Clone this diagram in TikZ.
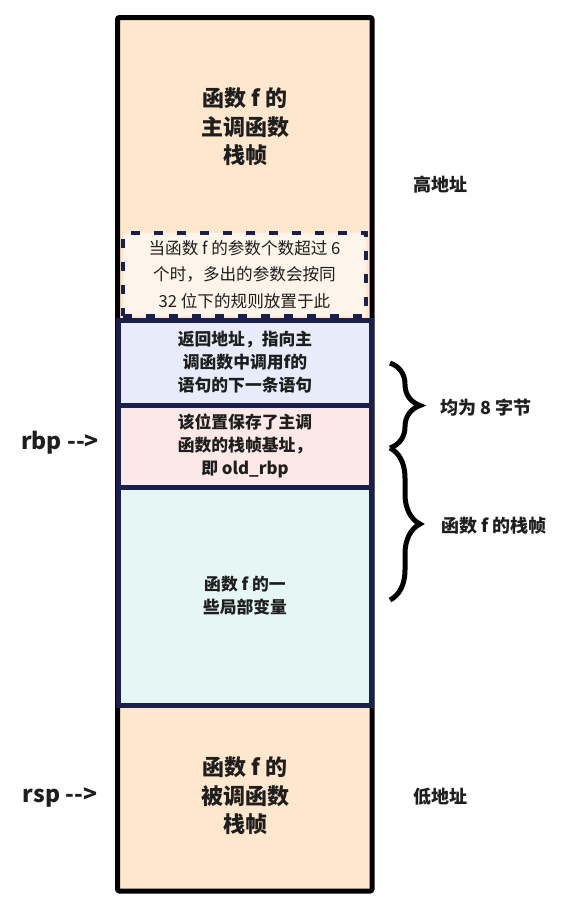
\documentclass[tikz,border=0pt]{standalone}
\usepackage{fontspec}
\setmainfont{Noto Sans CJK SC}
\usetikzlibrary{decorations.pathreplacing}
\definecolor{peach}{HTML}{FFE7CE}
\definecolor{paleorange}{HTML}{FDF4EA}
\definecolor{lav}{HTML}{E7EBFA}
\definecolor{rosy}{HTML}{FDE8E8}
\definecolor{mint}{HTML}{E6F6F4}
\definecolor{navy}{HTML}{1B1F4B}
\definecolor{ink}{HTML}{1E1E1E}
\begin{document}
\begin{tikzpicture}[x=1pt,y=-1pt,
  frame/.style={draw=black,line width=5pt,fill=peach,rounded corners=2pt,minimum width=254.5pt,minimum height=873.5pt,inner sep=0pt},
  slot/.style={draw=navy,line width=5pt,minimum width=253pt,inner sep=0pt,align=center,text=ink,font=\fontsize{16.8}{23}\selectfont\bfseries},
  dashbox/.style={draw=navy,line width=4.5pt,dash pattern=on 9pt off 14pt,fill=paleorange,minimum width=243pt,minimum height=83pt,inner sep=0pt,align=center,text=ink,font=\fontsize{16.6}{26.5}\selectfont},
  bigtext/.style={align=center,text=ink,font=\fontsize{22}{28.5}\selectfont\bfseries},
  sidelabel/.style={text=ink,font=\fontsize{18}{22}\selectfont\bfseries},
  ptrlabel/.style={text=ink,font=\fontsize{23}{26}\selectfont\bfseries},
  bracestyle/.style={draw=black,line width=5pt,decorate,decoration={brace,amplitude=30pt}}
]
\useasboundingbox (0,0) rectangle (563,908);
\node[frame] (frame) at (244.75,454.25) {};
\node[bigtext] (toptext) at (245,127) {函数 f 的\\主调函数\\栈帧};
\node[dashbox] (args) at (244.5,274.5) {当函数 f 的参数个数超过 6\\个时，多出的参数会按同\\32 位下的规则放置于此};
\node[slot,fill=lav,minimum height=85pt] (ret) at (245,362.5) {返回地址，指向主\\调函数中调用f的\\语句的下一条语句};
\node[slot,fill=rosy,minimum height=82pt] (oldrbp) at (245,446) {该位置保存了主调\\函数的栈帧基址，\\即 old\_rbp};
\node[slot,fill=mint,minimum height=218pt] (locals) at (245,596) {函数 f 的一\\些局部变量};
\node[bigtext] (bottext) at (245,796) {函数 f 的\\被调函数\\栈帧};
\node[sidelabel] (high) at (440,185) {高地址};
\node[sidelabel] (low) at (440,797) {低地址};
\node[ptrlabel] (rbp) at (60,443) {rbp -{}->};
\node[ptrlabel] (rsp) at (60,797) {rsp -{}->};
\coordinate (b1a) at (390,363);
\coordinate (b1b) at (390,448);
\coordinate (b2b) at (390,600);
\draw[bracestyle] (b1a) -- (b1b);
\draw[bracestyle] (b1b) -- (b2b);
\node[sidelabel,anchor=west] (eight) at (437,408) {均为 8 字节};
\node[sidelabel,anchor=west] (fframe) at (438,526) {函数 f 的栈帧};
\end{tikzpicture}
\end{document}
